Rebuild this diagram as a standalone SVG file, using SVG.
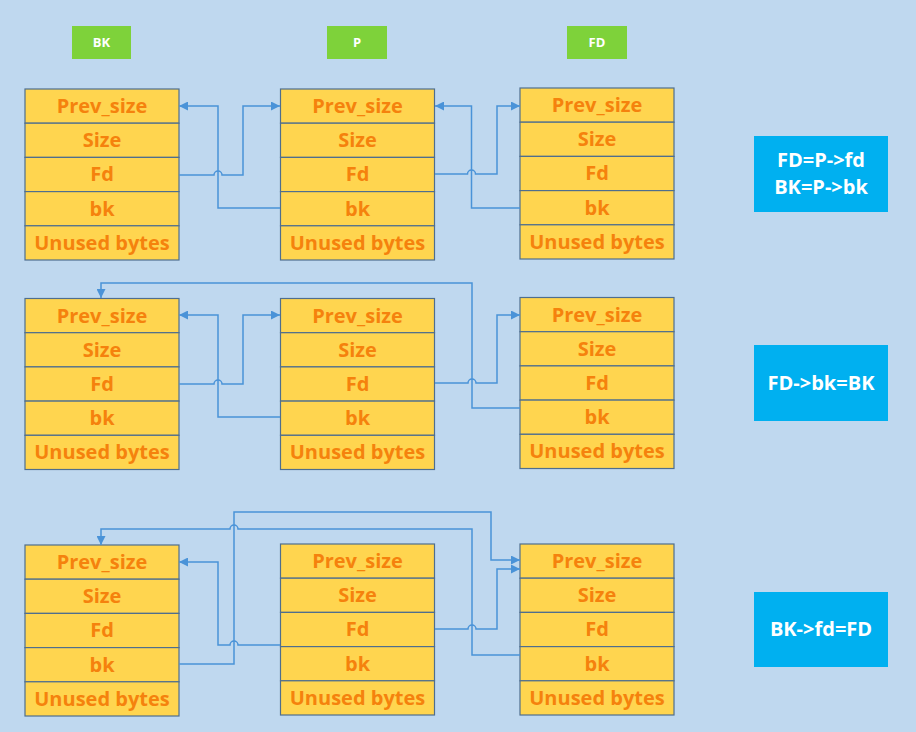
<svg xmlns="http://www.w3.org/2000/svg" width="916" height="732" viewBox="0 0 916 732">
<defs>
<style>
.cell{fill:#FFD54F;stroke:#4F6E8E;stroke-width:1.2}
.ct{font-family:"Open Sans","Liberation Sans",sans-serif;font-weight:bold;font-size:20px;fill:#F5820D;text-anchor:middle}
.tag{fill:#7ED23A}
.tt{font-family:"Open Sans","Liberation Sans",sans-serif;font-weight:bold;font-size:13px;fill:#FFFFFF;text-anchor:middle}
.note{fill:#00B0F0}
.nt{font-family:"Open Sans","Liberation Sans",sans-serif;font-weight:bold;font-size:20px;fill:#FFFFFF;text-anchor:middle}
.cn{fill:none;stroke:#4A93D8;stroke-width:1.5;marker-end:url(#ah)}
</style>
<marker id="ah" viewBox="0 0 10 10" refX="10" refY="5" markerUnits="userSpaceOnUse" markerWidth="9" markerHeight="9" orient="auto">
<path d="M0,0 L10,5 L0,10 z" fill="#4A93D8"/>
</marker>
<g id="chunk">
<rect class="cell" x="0" y="0" width="154" height="34.2"/>
<rect class="cell" x="0" y="34.2" width="154" height="34.2"/>
<rect class="cell" x="0" y="68.4" width="154" height="34.2"/>
<rect class="cell" x="0" y="102.6" width="154" height="34.2"/>
<rect class="cell" x="0" y="136.8" width="154" height="34.2"/>
<text class="ct" x="77" y="24">Prev_size</text>
<text class="ct" x="77" y="58.2">Size</text>
<text class="ct" x="77" y="92.4">Fd</text>
<text class="ct" x="77" y="126.6">bk</text>
<text class="ct" x="77" y="160.8">Unused bytes</text>
</g>
</defs>
<rect x="0" y="0" width="916" height="732" fill="#BFD8EF"/>

<g id="tag-BK"><rect class="tag" x="72" y="26" width="59" height="33"/><text class="tt" x="101.5" y="47">BK</text></g>
<g id="tag-P"><rect class="tag" x="327" y="26" width="60" height="33"/><text class="tt" x="357" y="47">P</text></g>
<g id="tag-FD"><rect class="tag" x="567" y="26" width="60" height="33"/><text class="tt" x="597" y="47">FD</text></g>

<g id="r1-BK"><use href="#chunk" x="25" y="89"/></g>
<g id="r1-P"><use href="#chunk" x="280.5" y="89"/></g>
<g id="r1-FD"><use href="#chunk" x="520" y="88"/></g>
<g id="r2-BK"><use href="#chunk" x="25" y="298.5"/></g>
<g id="r2-P"><use href="#chunk" x="280.5" y="298.5"/></g>
<g id="r2-FD"><use href="#chunk" x="520" y="297.5"/></g>
<g id="r3-BK"><use href="#chunk" x="25" y="545"/></g>
<g id="r3-P"><use href="#chunk" x="280.5" y="544"/></g>
<g id="r3-FD"><use href="#chunk" x="520" y="544"/></g>

<g id="note1"><rect class="note" x="754" y="136" width="134" height="76"/><text class="nt" x="821" y="167">FD=P-&gt;fd</text><text class="nt" x="821" y="194">BK=P-&gt;bk</text></g>
<g id="note2"><rect class="note" x="754" y="345" width="134" height="76"/><text class="nt" x="821" y="390">FD-&gt;bk=BK</text></g>
<g id="note3"><rect class="note" x="754" y="592" width="134" height="75"/><text class="nt" x="821" y="636">BK-&gt;fd=FD</text></g>

<g id="connectors">
<path class="cn" d="M179,175 L214,175 A4,4 0 0 1 222,175 L243,175 L243,106 L280,106"/>
<path class="cn" d="M280,208 L218,208 L218,106 L179,106"/>
<path class="cn" d="M435,174 L467.5,174 A4,4 0 0 1 475.5,174 L497,174 L497,106 L520,106"/>
<path class="cn" d="M520,208 L471.5,208 L471.5,106 L435,106"/>

<path class="cn" d="M179,384 L214,384 A4,4 0 0 1 222,384 L243,384 L243,315 L280,315"/>
<path class="cn" d="M280,417 L218,417 L218,315 L179,315"/>
<path class="cn" d="M435,383 L468,383 A4,4 0 0 1 476,383 L497,383 L497,315 L520,315"/>
<path class="cn" d="M520,408 L472,408 L472,283 L101,283 L101,298"/>

<path class="cn" d="M179,664 L234,664 L234,512 L491,512 L491,560 L520,560"/>
<path class="cn" d="M280,645 L238,645 A4,4 0 0 0 230,645 L218,645 L218,562 L179,562"/>
<path class="cn" d="M435,629 L468,629 A4,4 0 0 1 476,629 L497,629 L497,569 L520,569"/>
<path class="cn" d="M520,655 L472,655 L472,529 L238,529 A4,4 0 0 0 230,529 L101,529 L101,545"/>
</g>
</svg>
